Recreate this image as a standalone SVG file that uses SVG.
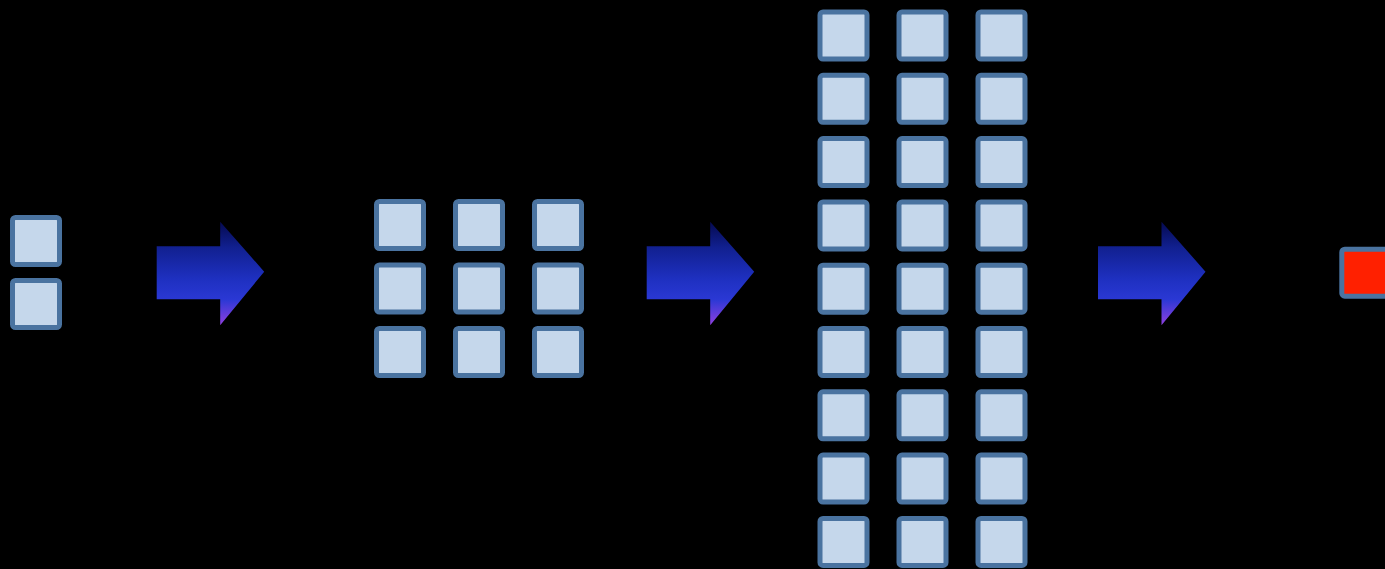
<svg xmlns="http://www.w3.org/2000/svg" width="1385" height="569" viewBox="0 0 1385 569">
<style>
.sq{fill:#c5d7eb;stroke:#4a73a0;stroke-width:5}
.red{fill:#ff2000;stroke:#4a73a0;stroke-width:5}
.arr{fill:url(#g)}
</style>
<defs>
<linearGradient id="g" x1="0" y1="0" x2="0" y2="1">
<stop offset="0" stop-color="#050a50"/>
<stop offset="0.25" stop-color="#112090"/>
<stop offset="0.55" stop-color="#1e30c0"/>
<stop offset="0.75" stop-color="#2a38d4"/>
<stop offset="1" stop-color="#9040e0"/>
</linearGradient>
<rect id="s" class="sq" x="2.5" y="2.5" width="47" height="47" rx="3"/>
<path id="a" class="arr" d="M0,24.5 H63.5 V0 L107.5,50 L63.5,103.5 V77.5 H0 Z"/>
</defs>
<rect width="1385" height="569" fill="#000"/>
<g id="input">
<use href="#s" x="10" y="215"/>
<use href="#s" x="10" y="278"/>
</g>
<g id="grid3x3">
<use href="#s" x="374" y="199"/><use href="#s" x="453" y="199"/><use href="#s" x="532" y="199"/>
<use href="#s" x="374" y="262.5"/><use href="#s" x="453" y="262.5"/><use href="#s" x="532" y="262.5"/>
<use href="#s" x="374" y="326"/><use href="#s" x="453" y="326"/><use href="#s" x="532" y="326"/>
</g>
<g id="grid9x3">
<use href="#s" x="817.5" y="9.5"/><use href="#s" x="896.5" y="9.5"/><use href="#s" x="975.5" y="9.5"/>
<use href="#s" x="817.5" y="72.8"/><use href="#s" x="896.5" y="72.8"/><use href="#s" x="975.5" y="72.8"/>
<use href="#s" x="817.5" y="136.1"/><use href="#s" x="896.5" y="136.1"/><use href="#s" x="975.5" y="136.1"/>
<use href="#s" x="817.5" y="199.4"/><use href="#s" x="896.5" y="199.4"/><use href="#s" x="975.5" y="199.4"/>
<use href="#s" x="817.5" y="262.7"/><use href="#s" x="896.5" y="262.7"/><use href="#s" x="975.5" y="262.7"/>
<use href="#s" x="817.5" y="326"/><use href="#s" x="896.5" y="326"/><use href="#s" x="975.5" y="326"/>
<use href="#s" x="817.5" y="389.3"/><use href="#s" x="896.5" y="389.3"/><use href="#s" x="975.5" y="389.3"/>
<use href="#s" x="817.5" y="452.6"/><use href="#s" x="896.5" y="452.6"/><use href="#s" x="975.5" y="452.6"/>
<use href="#s" x="817.5" y="515.9"/><use href="#s" x="896.5" y="515.9"/><use href="#s" x="975.5" y="515.9"/>
</g>
<g id="output">
<rect class="red" x="1341.8" y="249.2" width="47" height="47" rx="3"/>
</g>
<g id="connectors">
<use href="#a" x="156.7" y="221.7"/>
<use href="#a" x="646.7" y="221.7"/>
<use href="#a" x="1098" y="221.7"/>
</g>
</svg>
